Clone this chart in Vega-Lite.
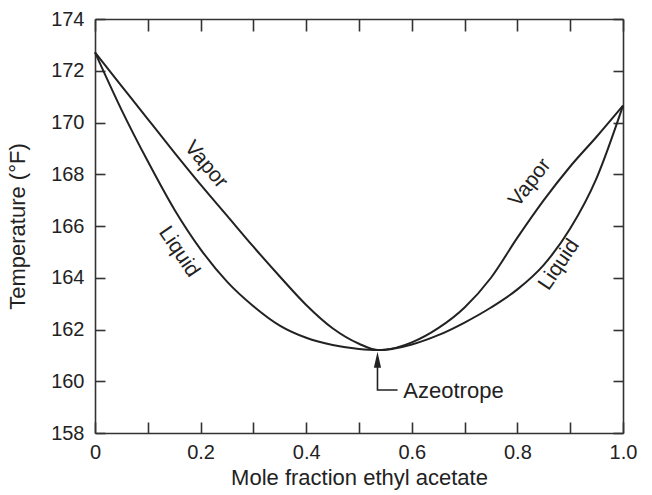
{
  "$schema": "https://vega.github.io/schema/vega-lite/v6.json",
  "width": 528,
  "height": 414,
  "autosize": "none",
  "padding": {"left": 95, "top": 19, "right": 29, "bottom": 62},
  "background": "white",
  "config": {
    "view": {"stroke": null},
    "font": "Liberation Sans",
    "axis": {"grid": false, "domainColor": "#333", "domainWidth": 1.6, "tickColor": "#333", "tickWidth": 1.6, "labelColor": "#222", "titleColor": "#222", "labelFont": "Liberation Sans", "titleFont": "Liberation Sans", "titleFontWeight": "normal"}
  },
  "datasets": {
    "curves": [
      {"phase": "Vapor", "x": 0.0, "T": 172.71},
      {"phase": "Vapor", "x": 0.05, "T": 171.42},
      {"phase": "Vapor", "x": 0.1, "T": 170.13},
      {"phase": "Vapor", "x": 0.15, "T": 168.85},
      {"phase": "Vapor", "x": 0.2, "T": 167.6},
      {"phase": "Vapor", "x": 0.25, "T": 166.4},
      {"phase": "Vapor", "x": 0.3, "T": 165.2},
      {"phase": "Vapor", "x": 0.35, "T": 164.05},
      {"phase": "Vapor", "x": 0.4, "T": 162.95},
      {"phase": "Vapor", "x": 0.45, "T": 162.05},
      {"phase": "Vapor", "x": 0.5, "T": 161.45},
      {"phase": "Vapor", "x": 0.535, "T": 161.21},
      {"phase": "Vapor", "x": 0.55, "T": 161.22},
      {"phase": "Vapor", "x": 0.6, "T": 161.5},
      {"phase": "Vapor", "x": 0.65, "T": 162.05},
      {"phase": "Vapor", "x": 0.7, "T": 162.85},
      {"phase": "Vapor", "x": 0.75, "T": 164.0},
      {"phase": "Vapor", "x": 0.8, "T": 165.55},
      {"phase": "Vapor", "x": 0.85, "T": 167.0},
      {"phase": "Vapor", "x": 0.9, "T": 168.3},
      {"phase": "Vapor", "x": 0.95, "T": 169.45},
      {"phase": "Vapor", "x": 1.0, "T": 170.65},
      {"phase": "Liquid", "x": 0.0, "T": 172.71},
      {"phase": "Liquid", "x": 0.05, "T": 170.5},
      {"phase": "Liquid", "x": 0.1, "T": 168.5},
      {"phase": "Liquid", "x": 0.15, "T": 166.65},
      {"phase": "Liquid", "x": 0.2, "T": 165.1},
      {"phase": "Liquid", "x": 0.25, "T": 163.85},
      {"phase": "Liquid", "x": 0.3, "T": 162.9},
      {"phase": "Liquid", "x": 0.35, "T": 162.15},
      {"phase": "Liquid", "x": 0.4, "T": 161.68},
      {"phase": "Liquid", "x": 0.45, "T": 161.4},
      {"phase": "Liquid", "x": 0.5, "T": 161.25},
      {"phase": "Liquid", "x": 0.535, "T": 161.21},
      {"phase": "Liquid", "x": 0.55, "T": 161.22},
      {"phase": "Liquid", "x": 0.6, "T": 161.42},
      {"phase": "Liquid", "x": 0.65, "T": 161.78},
      {"phase": "Liquid", "x": 0.7, "T": 162.27},
      {"phase": "Liquid", "x": 0.75, "T": 162.85},
      {"phase": "Liquid", "x": 0.8, "T": 163.55},
      {"phase": "Liquid", "x": 0.85, "T": 164.5},
      {"phase": "Liquid", "x": 0.9, "T": 165.9},
      {"phase": "Liquid", "x": 0.95, "T": 167.85},
      {"phase": "Liquid", "x": 1.0, "T": 170.65}
    ],
    "labels": [
      {"text": "Vapor", "x": 0.21, "T": 168.37, "angle": 50},
      {"text": "Liquid", "x": 0.159, "T": 165.0, "angle": 56},
      {"text": "Vapor", "x": 0.824, "T": 167.67, "angle": -52},
      {"text": "Liquid", "x": 0.879, "T": 164.5, "angle": -56}
    ],
    "leader": [
      {"x": 0.535, "T": 160.6, "o": 1},
      {"x": 0.535, "T": 159.66, "o": 2},
      {"x": 0.573, "T": 159.66, "o": 3}
    ],
    "arrow": [{"x": 0.535, "T": 160.83}],
    "annot": [{"text": "Azeotrope", "x": 0.584, "T": 159.62}]
  },
  "layer": [
    {
      "data": {"name": "curves"},
      "mark": {"type": "line", "interpolate": "monotone", "color": "#222", "strokeWidth": 2},
      "encoding": {
        "x": {"field": "x", "type": "quantitative", "scale": {"domain": [0, 1], "nice": false},
          "axis": {"orient": "bottom", "title": "Mole fraction ethyl acetate", "values": [0, 0.1, 0.2, 0.3, 0.4, 0.5, 0.6, 0.7, 0.8, 0.9, 1.0],
            "labelExpr": "datum.value == 0 ? '0' : (round(datum.value * 10) % 2 == 0 ? format(datum.value, '.1f') : '')",
            "tickSize": -11, "labelPadding": 20, "labelFontSize": 20, "titleFontSize": 22, "titlePadding": 5, "labelFlush": false, "labelOverlap": false}},
        "y": {"field": "T", "type": "quantitative", "scale": {"domain": [158, 174], "nice": false, "zero": false},
          "axis": {"orient": "left", "title": "Temperature (°F)", "values": [158, 160, 162, 164, 166, 168, 170, 172, 174],
            "tickSize": -10, "labelPadding": 21, "labelFontSize": 20, "titleFontSize": 22, "titlePadding": 21, "labelFlush": false, "labelOverlap": false}},
        "detail": {"field": "phase"}
      }
    },
    {
      "data": {"name": "labels"},
      "mark": {"type": "text", "fontSize": 21, "color": "#222", "font": "Liberation Sans"},
      "encoding": {
        "x": {"field": "x", "type": "quantitative",
          "axis": {"orient": "top", "title": null, "labels": false, "values": [0, 0.1, 0.2, 0.3, 0.4, 0.5, 0.6, 0.7, 0.8, 0.9, 1.0], "tickSize": -12}},
        "y": {"field": "T", "type": "quantitative",
          "axis": {"orient": "right", "title": null, "labels": false, "values": [158, 160, 162, 164, 166, 168, 170, 172, 174], "tickSize": -10}},
        "text": {"field": "text"},
        "angle": {"field": "angle", "type": "quantitative", "scale": null}
      }
    },
    {
      "data": {"name": "leader"},
      "mark": {"type": "line", "color": "#222", "strokeWidth": 1.6},
      "encoding": {
        "x": {"field": "x", "type": "quantitative", "axis": null},
        "y": {"field": "T", "type": "quantitative", "axis": null},
        "order": {"field": "o"}
      }
    },
    {
      "data": {"name": "arrow"},
      "mark": {"type": "point", "shape": "M0,-1L0.45,1L-0.45,1Z", "filled": true, "color": "#222", "size": 256, "opacity": 1},
      "encoding": {
        "x": {"field": "x", "type": "quantitative", "axis": null},
        "y": {"field": "T", "type": "quantitative", "axis": null}
      }
    },
    {
      "data": {"name": "annot"},
      "mark": {"type": "text", "fontSize": 22, "color": "#222", "align": "left", "baseline": "middle", "font": "Liberation Sans"},
      "encoding": {
        "x": {"field": "x", "type": "quantitative", "axis": null},
        "y": {"field": "T", "type": "quantitative", "axis": null},
        "text": {"field": "text"}
      }
    }
  ],
  "resolve": {"axis": {"x": "independent", "y": "independent"}}
}
